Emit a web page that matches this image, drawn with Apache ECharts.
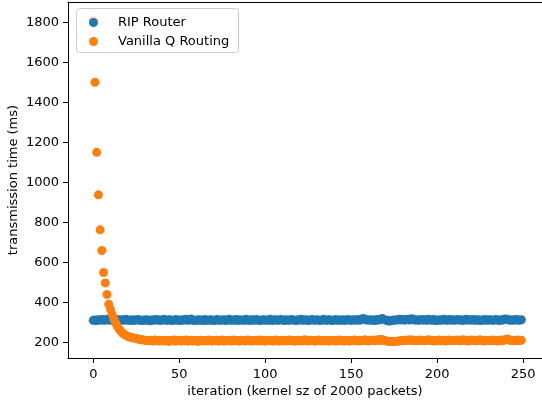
<!DOCTYPE html>
<html>
<head>
<meta charset="utf-8">
<script src="https://cdn.jsdelivr.net/npm/echarts@6/dist/echarts.min.js"></script>
<style>html,body{margin:0;padding:0;background:#fff}#c{width:542px;height:407px}</style>
</head>
<body>
<div id="c"></div>
<script>
const seriesNames = ["RIP Router", "Vanilla Q Routing"];
const xTicks = [0, 50, 100, 150, 200, 250];
const yTicks = [200, 400, 600, 800, 1000, 1200, 1400, 1600, 1800];
const ripRouter = [
311,313,310,314,312,315,311,313,316,312,
314,311,313,312,315,310,313,314,311,316,
312,313,310,314,311,313,315,312,310,313,
311,314,312,309,313,311,315,312,314,310,
313,316,312,311,314,313,310,312,315,311,
313,310,314,312,316,311,313,318,312,310,
312,314,311,313,310,315,312,311,314,313,
310,312,315,311,313,312,314,310,313,316,
311,313,312,315,310,314,312,313,311,317,
312,310,314,313,311,315,312,310,313,314,
311,313,312,316,310,313,314,311,312,315,
313,310,314,312,311,315,313,312,310,314,
312,316,311,313,314,310,312,315,313,311,
314,312,310,313,316,311,312,314,313,310,
312,315,311,313,312,314,310,313,315,312,
311,314,313,312,315,311,316,320,317,313,
312,314,311,313,310,315,313,317,320,316,
312,310,308,309,311,313,312,314,316,313,
315,312,314,317,313,319,316,312,314,311,
313,315,312,314,311,316,313,312,315,310,
313,311,314,312,316,313,311,315,312,314,
311,313,315,312,314,310,313,316,312,314,
312,315,311,313,314,310,313,312,315,311,
313,314,311,312,315,313,310,314,312,316,
318,315,313,311,314,312,315,313,311,314];
const vanillaQ = [
1810,1500,1150,938,763,660,550,498,440,392,
365,340,318,298,282,268,257,248,241,236,
232,228,226,224,222,220,218,216,215,213,
212,210,211,209,212,208,213,210,207,211,
209,212,208,210,206,211,209,213,207,210,
212,208,211,209,213,207,210,212,208,211,
209,206,212,210,208,211,209,213,210,207,
211,209,212,208,210,213,207,211,209,212,
208,210,213,209,211,207,212,210,208,211,
213,209,207,211,210,212,208,213,209,211,
207,210,212,209,211,208,213,210,207,211,
209,212,208,210,213,209,211,207,210,212,
208,211,209,214,210,208,212,209,211,207,
210,213,209,211,208,212,210,207,211,209,
212,208,210,213,209,211,207,210,212,208,
211,209,213,210,208,212,209,211,214,210,
208,212,210,213,209,211,215,210,216,212,
209,207,206,205,207,204,206,208,207,210,
209,212,210,213,211,214,210,212,209,211,
213,210,212,209,211,214,210,212,208,211,
210,213,209,211,212,208,210,213,209,211,
212,210,213,209,211,214,210,212,208,211,
213,210,212,209,211,214,210,208,212,210,
211,209,213,210,212,208,211,213,209,212,
216,218,213,210,212,209,211,213,210,212];

const toPts = arr => arr.map((v, i) => [i, v]);
const font = 'DejaVu Sans';
const chart = echarts.init(document.getElementById('c'), null, {renderer: 'canvas'});
chart.setOption({
  animation: false,
  backgroundColor: '#fff',
  grid: {left: 68, top: 2, right: 0, bottom: 49, containLabel: false, outerBoundsMode: 'none'},
  graphic: [{
    type: 'rect', left: 76, top: 8, z: 100,
    shape: {width: 162, height: 44, r: 3},
    style: {fill: 'rgba(255,255,255,0.8)', stroke: '#cccccc', lineWidth: 1}
  }],
  legend: {
    data: seriesNames, orient: 'vertical', left: 87, top: 14,
    icon: 'circle', itemWidth: 9, itemHeight: 9, itemGap: 6,
    padding: 2, z: 101,
    formatter: '{t|{name}}',
    textStyle: {fontFamily: font, fontSize: 13, color: '#000',
      rich: {t: {fontFamily: font, fontSize: 13, color: '#000', padding: [0, 0, 0, 15]}}}
  },
  xAxis: [{
    type: 'value', min: -14.7, max: 261.0,
    name: 'iteration (kernel sz of 2000 packets)', nameLocation: 'middle', nameGap: 27,
    nameMoveOverlap: false,
    nameTextStyle: {fontFamily: font, fontSize: 13, color: '#000'},
    axisLine: {show: true, onZero: false, lineStyle: {color: '#000', width: 1}},
    axisTick: {show: true, length: 5, lineStyle: {color: '#000'}, customValues: xTicks},
    axisLabel: {fontFamily: font, fontSize: 13, color: '#000', margin: 10, customValues: xTicks, formatter: v => String(v)},
    splitLine: {show: false}
  }, {
    type: 'value', position: 'top', min: -14.7, max: 261.0,
    axisLine: {show: true, onZero: false, lineStyle: {color: '#000', width: 1}},
    axisTick: {show: false}, axisLabel: {show: false}, splitLine: {show: false}
  }],
  yAxis: {
    type: 'value', min: 123, max: 1901,
    name: 'transmission time (ms)', nameLocation: 'middle', nameGap: 48,
    nameMoveOverlap: false,
    nameTextStyle: {fontFamily: font, fontSize: 13, color: '#000'},
    axisLine: {show: true, onZero: false, lineStyle: {color: '#000', width: 1}},
    axisTick: {show: true, length: 5, lineStyle: {color: '#000'}, customValues: yTicks},
    axisLabel: {fontFamily: font, fontSize: 13, color: '#000', margin: 9, customValues: yTicks, formatter: v => String(v)},
    splitLine: {show: false}
  },
  series: [
    {name: seriesNames[0], type: 'scatter', data: toPts(ripRouter), symbolSize: 9, itemStyle: {color: '#1f77b4', opacity: 1}},
    {name: seriesNames[1], type: 'scatter', data: toPts(vanillaQ), symbolSize: 9, itemStyle: {color: '#ff7f0e', opacity: 1}}
  ]
});
</script>
</body>
</html>
